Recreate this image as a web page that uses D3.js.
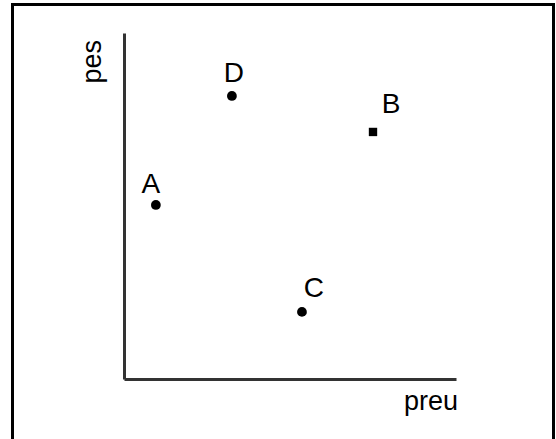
<!DOCTYPE html>
<html>
<head>
<meta charset="utf-8">
<script src="https://cdn.jsdelivr.net/npm/d3@7"></script>
<style>
  body { margin: 0; background: #fff; }
  text { font-family: "Liberation Sans", Arial, sans-serif; fill: #000; }
</style>
</head>
<body>
<div id="chart"></div>
<script>
// chart data
const names = ["A", "B", "C", "D"];
const preu = [0.96, 7.5, 5.36, 3.25];
const pes = [5.03, 7.14, 1.94, 8.18];
const xLabel = "preu";
const yLabel = "pes";

const width = 556;
const height = 439;
const margin = { top: 33, right: 100, bottom: 60, left: 124 };

const svg = d3.select("#chart").append("svg")
  .attr("width", width)
  .attr("height", height);

// outer frame
svg.append("rect")
  .attr("x", 12.5).attr("y", 4.5)
  .attr("width", 541).attr("height", 450)
  .attr("fill", "none")
  .attr("stroke", "#000")
  .attr("stroke-width", 3);

const xScale = d3.scaleLinear()
  .domain([0, 10])
  .range([margin.left, width - margin.right]);

const yScale = d3.scaleLinear()
  .domain([0, 10])
  .range([height - margin.bottom, margin.top]);

// axes without ticks, just the lines
svg.append("g")
  .attr("transform", `translate(0, ${height - margin.bottom})`)
  .call(d3.axisBottom(xScale).ticks(0).tickSize(0).tickSizeOuter(0))
  .call(g => g.select(".domain").attr("stroke", "#333").attr("stroke-width", 3));

svg.append("g")
  .attr("transform", `translate(${margin.left}, 0)`)
  .call(d3.axisLeft(yScale).ticks(0).tickSize(0).tickSizeOuter(0))
  .call(g => g.select(".domain").attr("stroke", "#333").attr("stroke-width", 3));

svg.append("text")
  .attr("x", xScale(10) + 2)
  .attr("y", 410)
  .attr("text-anchor", "end")
  .style("font-size", "27px")
  .text(xLabel);

svg.append("text")
  .attr("transform", `translate(101, ${yScale(10) + 7}) rotate(-90)`)
  .attr("text-anchor", "end")
  .style("font-size", "27px")
  .text(yLabel);

const points = names.map((n, i) => ({ name: n, x: preu[i], y: pes[i] }));

// label placement around each dot
const labelOffset = {
  A: [-5, -12],
  B: [18, -19],
  C: [12, -15],
  D: [2, -14]
};
const shapes = { A: d3.symbolCircle, B: d3.symbolSquare, C: d3.symbolCircle, D: d3.symbolCircle };

const g = svg.append("g");

g.selectAll(".dot")
  .data(points)
  .join("path")
  .attr("class", "dot")
  .attr("d", d => d3.symbol().type(shapes[d.name]).size(d.name === "B" ? 70 : 75)())
  .attr("transform", d => `translate(${xScale(d.x)}, ${yScale(d.y)})`)
  .attr("fill", "#000");

g.selectAll(".lbl")
  .data(points)
  .join("text")
  .attr("class", "lbl")
  .attr("x", d => xScale(d.x) + labelOffset[d.name][0])
  .attr("y", d => yScale(d.y) + labelOffset[d.name][1])
  .attr("text-anchor", "middle")
  .style("font-size", "28px")
  .text(d => d.name);
</script>
</body>
</html>
